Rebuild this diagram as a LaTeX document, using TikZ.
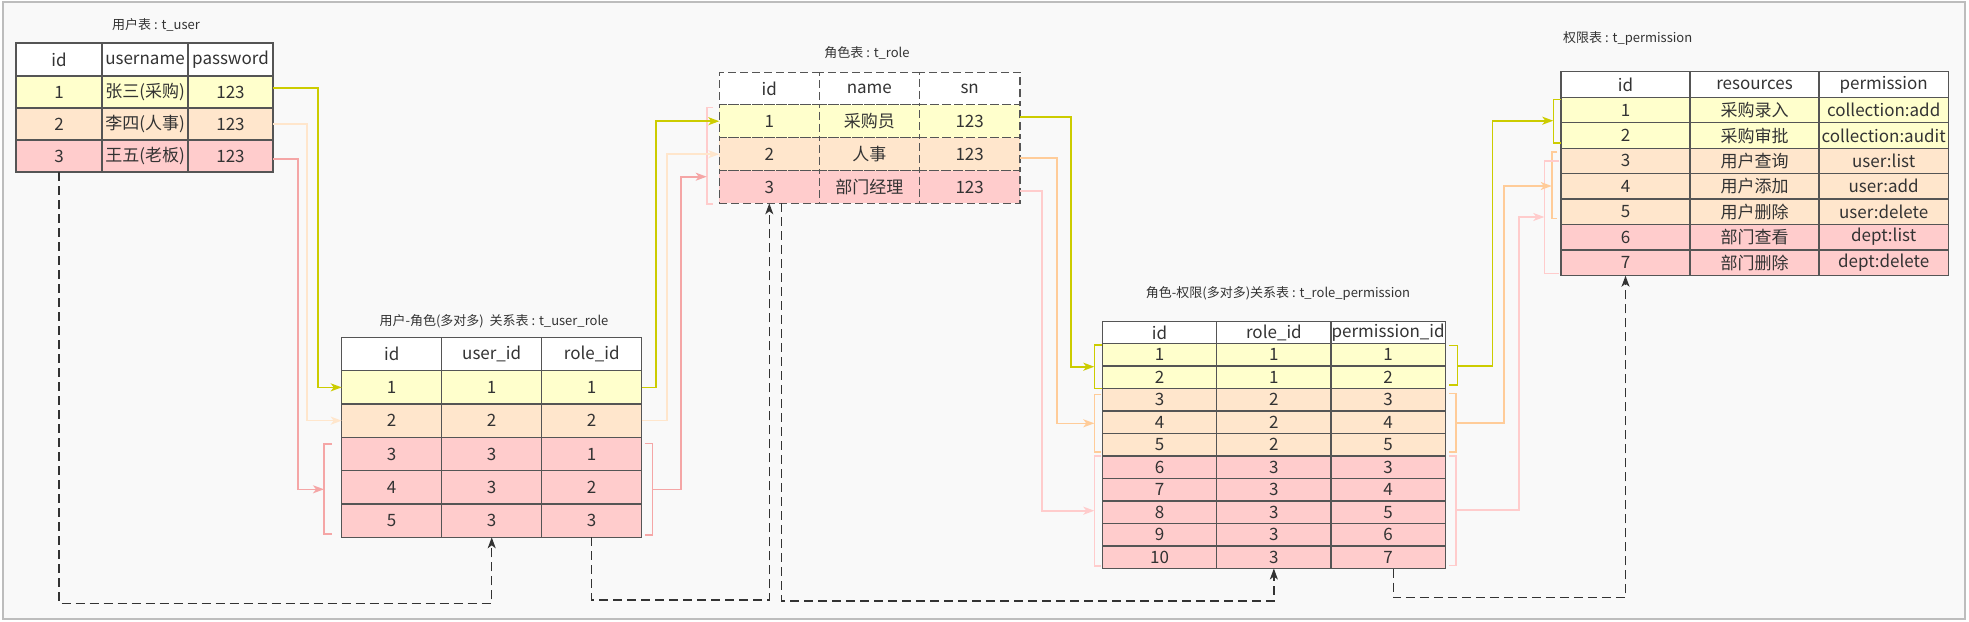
\documentclass[tikz,border=0pt]{standalone}
\usepackage{fontspec}
\setmainfont{Noto Sans CJK SC}
\usetikzlibrary{arrows.meta}
\definecolor{tline}{HTML}{555555}
\definecolor{txt}{HTML}{333333}
\definecolor{ryel}{HTML}{FFFFCC}
\definecolor{rpea}{HTML}{FFE6CC}
\definecolor{rpnk}{HTML}{FFCCCC}
\definecolor{cyel}{HTML}{CCCC00}
\definecolor{cpea}{HTML}{FFE6CC}
\definecolor{cpeb}{HTML}{FFCC99}
\definecolor{cpka}{HTML}{F5A6A6}
\definecolor{cpkb}{HTML}{FFCCCC}
\definecolor{bgc}{HTML}{F9F9F9}
\definecolor{frm}{HTML}{BDBDBD}
\tikzset{
  cell/.style={draw=tline,line width=1.5pt,inner sep=0pt,outer sep=0pt,text=txt,font=\fontsize{17}{20}\selectfont},
  ttl/.style={inner sep=0pt,text=txt,font=\fontsize{13}{15}\selectfont},
  conn/.style={line width=1.6pt},
  arr/.style={-{Stealth[length=11pt,width=8pt,inset=3pt]}},
  dsh/.style={draw=txt,line width=1.3pt,dash pattern=on 9pt off 5pt},
  brk/.style={line width=1.6pt}
}
\newcommand{\trow}[9][]{%
  \node[cell,#1,fill=#6,minimum width={(\xb-\xa)*1pt},minimum height={(#5-#4)*1pt}] (#2-#3-1) at ({(\xa+\xb)/2},{(#4+#5)/2}) {#7};
  \node[cell,#1,fill=#6,minimum width={(\xc-\xb)*1pt},minimum height={(#5-#4)*1pt}] (#2-#3-2) at ({(\xb+\xc)/2},{(#4+#5)/2}) {#8};
  \node[cell,#1,fill=#6,minimum width={(\xd-\xc)*1pt},minimum height={(#5-#4)*1pt}] (#2-#3-3) at ({(\xc+\xd)/2},{(#4+#5)/2}) {#9};
}
\begin{document}
\begin{tikzpicture}[x=1pt,y=-1pt]
\useasboundingbox (0,0) rectangle (1969,621);
\fill[white] (0,0) rectangle (1969,621);
\draw[draw=frm,fill=bgc,line width=1.5pt] (3,2) rectangle (1965,619);

% ---------- t_user
\node[ttl] (tu) at (156,25) {用户表 : t\_user};
\def\xa{16}\def\xb{102}\def\xc{188}\def\xd{273}
\trow{u}{0}{43}{76}{white}{id}{username}{password}
\trow{u}{1}{76}{108}{ryel}{1}{张三(采购)}{123}
\trow{u}{2}{108}{140}{rpea}{2}{李四(人事)}{123}
\trow{u}{3}{140}{172}{rpnk}{3}{王五(老板)}{123}

% ---------- t_user_role
\node[ttl] (tur) at (494,321.7) {用户-角色(多对多)\ \ 关系表 : t\_user\_role};
\def\xa{341.7}\def\xb{441.7}\def\xc{541.7}\def\xd{641.7}
\trow{ur}{0}{337.3}{370.7}{white}{id}{user\_id}{role\_id}
\trow{ur}{1}{370.7}{404}{ryel}{1}{1}{1}
\trow{ur}{2}{404}{437.3}{rpea}{2}{2}{2}
\trow{ur}{3}{437.3}{470.7}{rpnk}{3}{3}{1}
\trow{ur}{4}{470.7}{504}{rpnk}{4}{3}{2}
\trow{ur}{5}{504}{537.3}{rpnk}{5}{3}{3}

% ---------- t_role
\node[ttl] (tr) at (867,52.7) {角色表 : t\_role};
\def\xa{719.3}\def\xb{819.3}\def\xc{919.3}\def\xd{1020}
\trow[dash pattern=on 8pt off 4pt]{r}{0}{72.3}{104.7}{white}{id}{name}{sn}
\trow[dash pattern=on 8pt off 4pt]{r}{1}{104.7}{137.7}{ryel}{1}{采购员}{123}
\trow[dash pattern=on 8pt off 4pt]{r}{2}{137.7}{170.7}{rpea}{2}{人事}{123}
\trow[dash pattern=on 8pt off 4pt]{r}{3}{170.7}{203.3}{rpnk}{3}{部门经理}{123}

% ---------- t_role_permission
\node[ttl] (trp) at (1278,293.3) {角色-权限(多对多)关系表 : t\_role\_permission};
\def\xa{1102.3}\def\xb{1216.7}\def\xc{1331}\def\xd{1445.3}
\trow{rp}{0}{321.7}{343.3}{white}{id}{role\_id}{permission\_id}
\trow{rp}{1}{343.3}{366}{ryel}{1}{1}{1}
\trow{rp}{2}{366}{388.5}{ryel}{2}{1}{2}
\trow{rp}{3}{388.5}{411}{rpea}{3}{2}{3}
\trow{rp}{4}{411}{433.5}{rpea}{4}{2}{4}
\trow{rp}{5}{433.5}{456}{rpea}{5}{2}{5}
\trow{rp}{6}{456}{478.5}{rpnk}{6}{3}{3}
\trow{rp}{7}{478.5}{501}{rpnk}{7}{3}{4}
\trow{rp}{8}{501}{523.5}{rpnk}{8}{3}{5}
\trow{rp}{9}{523.5}{546}{rpnk}{9}{3}{6}
\trow{rp}{10}{546}{568.5}{rpnk}{10}{3}{7}

% ---------- t_permission
\node[ttl,anchor=west] (tp) at (1563,39) {权限表 : t\_permission};
\def\xa{1561}\def\xb{1690}\def\xc{1819}\def\xd{1948.3}
\trow{p}{0}{71.7}{97.3}{white}{id}{resources}{permission}
\trow{p}{1}{97.3}{122.7}{ryel}{1}{采购录入}{collection:add}
\trow{p}{2}{122.7}{148.3}{ryel}{2}{采购审批}{collection:audit}
\trow{p}{3}{148.3}{173.3}{rpea}{3}{用户查询}{user:list}
\trow{p}{4}{173.3}{199}{rpea}{4}{用户添加}{user:add}
\trow{p}{5}{199}{224.3}{rpea}{5}{用户删除}{user:delete}
\trow{p}{6}{224.3}{250}{rpnk}{6}{部门查看}{dept:list}
\trow{p}{7}{250}{275.7}{rpnk}{7}{部门删除}{dept:delete}

% ---------- brackets and their connection points
\draw[brk,cpka] (331.7,444) -- (324,444) -- (324,534) -- (331.7,534);
\coordinate (bURL) at (324,489.3);
\draw[brk,cpka] (645,443.3) -- (652.3,443.3) -- (652.3,535) -- (645,535);
\coordinate (bURR) at (652.3,489.3);
\draw[brk,cpkb] (713,107.3) -- (706.7,107.3) -- (706.7,204) -- (713,204);
\coordinate (bRL) at (706.7,176.7);

\draw[brk,cyel] (1101.5,345) -- (1094.3,345) -- (1094.3,388.3) -- (1101.5,388.3);
\coordinate (bRPLy) at (1094.3,366.7);
\draw[brk,cpeb] (1101,394.3) -- (1094.3,394.3) -- (1094.3,452.2) -- (1101,452.2);
\coordinate (bRPLp) at (1094.3,423.3);
\draw[brk,cpkb] (1101,456) -- (1094.3,456) -- (1094.3,566) -- (1101,566);
\coordinate (bRPLk) at (1094.3,510.7);

\draw[brk,cyel] (1449,345.3) -- (1457.3,345.3) -- (1457.3,385) -- (1449,385);
\coordinate (bRPRy) at (1457.3,365.7);
\draw[brk,cpeb] (1449,393.3) -- (1456,393.3) -- (1456,452) -- (1449,452);
\coordinate (bRPRp) at (1456,422.7);
\draw[brk,cpkb] (1449,456) -- (1456,456) -- (1456,565.3) -- (1449,565.3);
\coordinate (bRPRk) at (1456,510);

\draw[brk,cyel] (1561,99.3) -- (1553.3,99.3) -- (1553.3,143) -- (1561,143);
\coordinate (bPLy) at (1553.3,120.7);
\draw[brk,cpeb] (1557,151.7) -- (1551.7,151.7) -- (1551.7,218.3) -- (1557,218.3);
\coordinate (bPLp) at (1551.7,186);
\draw[brk,cpkb] (1559,160.7) -- (1544.3,160.7) -- (1544.3,273.3) -- (1559,273.3);
\coordinate (bPLk) at (1544.3,217);

% ---------- coloured connectors
\draw[conn,arr,cyel] ([yshift=4pt]u-1-3.east) -- ++(45,0) |- (ur-1-1.west);
\draw[conn,arr,cpea] (u-2-3.east) -- ++(33.7,0) |- (ur-2-1.west);
\draw[conn,arr,cpka] ([yshift=-3pt]u-3-3.east) -- ++(24.7,0) |- (bURL);

\draw[conn,arr,cyel] (ur-1-3.east) -- ++(14,0) |- (r-1-1.west);
\draw[conn,arr,cpea] (ur-2-3.east) -- ++(25,0) |- (r-2-1.west);
\draw[conn,arr,cpka] (bURR) -- ++(28.7,0) |- (bRL);

\draw[conn,arr,cyel] ([yshift=4pt]r-1-3.east) -- ++(50.7,0) |- (bRPLy);
\draw[conn,arr,cpeb] ([yshift=-4pt]r-2-3.east) -- ++(36.7,0) |- (bRPLp);
\draw[conn,arr,cpkb] ([yshift=-3.7pt]r-3-3.east) -- ++(21.7,0) |- (bRPLk);

\draw[conn,arr,cyel] (bRPRy) -- ++(35,0) |- (bPLy);
\draw[conn,arr,cpeb] (bRPRp) -- ++(48,0) |- (bPLp);
\draw[conn,arr,cpkb] (bRPRk) -- ++(63,0) |- (bPLk);

% ---------- dashed foreign-key connectors
\draw[dsh,arr] (u-3-1.south) -- (u-3-1.south |- 0,603.3) -| (ur-5-2.south);
\draw[dsh,arr] (ur-5-3.south) -- (ur-5-3.south |- 0,600) -| (r-3-1.south);
\coordinate (rd) at ([xshift=12.4pt]r-3-1.south);
\draw[dsh,arr] (rd) -- (rd |- 0,601) -| (rp-10-2.south);
\coordinate (rpd) at ([xshift=5pt]rp-10-3.south);
\draw[dsh,arr] (rpd) -- (rpd |- 0,597.7) -| (p-7-1.south);
\end{tikzpicture}
\end{document}
